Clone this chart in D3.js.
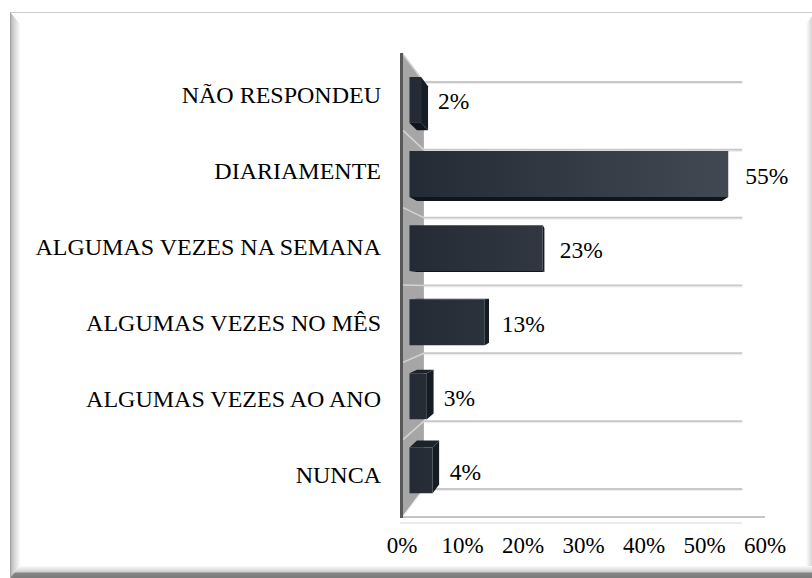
<!DOCTYPE html>
<html>
<head>
<meta charset="utf-8">
<script src="https://cdn.jsdelivr.net/npm/d3@7"></script>
<style>
  html, body { margin: 0; padding: 0; background: #ffffff; }
  svg { display: block; }
  text { font-family: "Liberation Serif", "Times New Roman", serif; fill: #000; }
</style>
</head>
<body>
<svg id="chart" width="812" height="578"></svg>
<script>
// ---- data ----
const categories = ["NÃO RESPONDEU", "DIARIAMENTE", "ALGUMAS VEZES NA SEMANA", "ALGUMAS VEZES NO MÊS", "ALGUMAS VEZES AO ANO", "NUNCA"];
const values = [0.02, 0.55, 0.23, 0.13, 0.03, 0.04];
const valueLabels = ["2%", "55%", "23%", "13%", "3%", "4%"];
const tickValues = [0, 0.1, 0.2, 0.3, 0.4, 0.5, 0.6];
const tickLabels = ["0%", "10%", "20%", "30%", "40%", "50%", "60%"];

// ---- layout ----
const W = 812, H = 578;
const FONT = "Liberation Serif, Times New Roman, serif";
const svg = d3.select("#chart");
const defs = svg.append("defs");

// perspective: front plane scales, vanishing point, depth factors
const x = d3.scaleLinear().domain([0, 0.6]).range([402, 765]);
const y = d3.scaleBand().domain(categories).range([53, 517]).paddingInner(0).paddingOuter(0);
const V = { x: 580, y: 289 };
const sBack = 0.877, sBarFront = 0.958, sBarBack = 0.916, sLabel = 0.982;
const px = (xf, s) => V.x + s * (xf - V.x);
const py = (yf, s) => V.y + s * (yf - V.y);
const barFrac = 0.62;

// ---- frame (beveled border) ----
const gL = defs.append("linearGradient").attr("id", "gLeft").attr("x1", 0).attr("x2", 1).attr("y1", 0).attr("y2", 0);
gL.append("stop").attr("offset", "0%").attr("stop-color", "#9a9a9a");
gL.append("stop").attr("offset", "20%").attr("stop-color", "#c4c4c4");
gL.append("stop").attr("offset", "100%").attr("stop-color", "#fbfbfb");
const gB = defs.append("linearGradient").attr("id", "gBottom").attr("x1", 0).attr("x2", 0).attr("y1", 0).attr("y2", 1);
gB.append("stop").attr("offset", "0%").attr("stop-color", "#fafafa");
gB.append("stop").attr("offset", "45%").attr("stop-color", "#d4d4d4");
gB.append("stop").attr("offset", "62%").attr("stop-color", "#858585");
gB.append("stop").attr("offset", "100%").attr("stop-color", "#7b7b7b");
const gR = defs.append("linearGradient").attr("id", "gRight").attr("x1", 0).attr("x2", 1).attr("y1", 0).attr("y2", 0);
gR.append("stop").attr("offset", "0%").attr("stop-color", "#ffffff");
gR.append("stop").attr("offset", "100%").attr("stop-color", "#d6d6d6");

svg.append("line").attr("x1", 10).attr("x2", W).attr("y1", 12.5).attr("y2", 12.5)
  .attr("stroke", "#cdcdcd").attr("stroke-width", 1.2);
svg.append("polygon").attr("points", "10,12 20,24 20,566 10,578").attr("fill", "url(#gLeft)");
svg.append("polygon").attr("points", `806,24 812,16 812,578 806,566`).attr("fill", "url(#gRight)");
svg.append("polygon").attr("points", `10,578 20,566 ${W},566 ${W},578`).attr("fill", "url(#gBottom)");

// ---- walls ----
const yTopF = y.range()[0], yBotF = y.range()[1];
const x0F = x(0), xEndF = x(0.6);
// side wall
svg.append("polygon")
  .attr("points", [[x0F, yTopF], [px(x0F, sBack), py(yTopF, sBack)], [px(x0F, sBack), py(yBotF, sBack)], [x0F, yBotF]].map(p => p.join(",")).join(" "))
  .attr("fill", "#a6a6a6");
svg.append("line")
  .attr("x1", x0F).attr("y1", yTopF).attr("x2", px(x0F, sBack)).attr("y2", py(yTopF, sBack))
  .attr("stroke", "#cfcfcf").attr("stroke-width", 1.5);

// gridlines at band boundaries (back wall + side wall)
const bounds = categories.map(c => y(c)).concat([yBotF]);
bounds.forEach((b, i) => {
  const yb = py(b, sBack);
  if (i > 0) {
    svg.append("line")
      .attr("x1", x0F + 1).attr("y1", b).attr("x2", px(x0F, sBack)).attr("y2", yb)
      .attr("stroke", i === bounds.length - 1 ? "#f2f2f2" : "#d4d4d4").attr("stroke-width", 1.5);
  }
  svg.append("line")
    .attr("x1", px(x0F, sBack)).attr("x2", px(xEndF, sBack)).attr("y1", yb).attr("y2", yb)
    .attr("stroke", "#c8c8c8").attr("stroke-width", 2);
  svg.append("line")
    .attr("x1", px(x0F, sBack)).attr("x2", px(xEndF, sBack)).attr("y1", yb + 1.5).attr("y2", yb + 1.5)
    .attr("stroke", "#ececec").attr("stroke-width", 1);
});
// floor front edge and base line
svg.append("line").attr("x1", x0F).attr("x2", xEndF).attr("y1", yBotF).attr("y2", yBotF)
  .attr("stroke", "#c6c6c6").attr("stroke-width", 2);
svg.append("line").attr("x1", x0F - 2).attr("x2", px(xEndF, sBack)).attr("y1", yBotF + 6).attr("y2", yBotF + 6)
  .attr("stroke", "#d8d8d8").attr("stroke-width", 1);
// dark left axis edge
svg.append("line").attr("x1", x0F - 0.5).attr("x2", x0F - 0.5).attr("y1", yTopF).attr("y2", yBotF + 1)
  .attr("stroke", "#585858").attr("stroke-width", 3);

// ---- bars ----
const gF = defs.append("linearGradient").attr("id", "gFront").attr("gradientUnits", "userSpaceOnUse")
  .attr("x1", 410).attr("x2", 730).attr("y1", 0).attr("y2", 0);
gF.append("stop").attr("offset", "0%").attr("stop-color", "#242b34");
gF.append("stop").attr("offset", "100%").attr("stop-color", "#434952");

const pts = arr => arr.map(p => p[0].toFixed(2) + "," + p[1].toFixed(2)).join(" ");
const barG = svg.append("g");
categories.forEach((c, i) => {
  const v = values[i];
  const bh = y.bandwidth() * barFrac;
  const yc = y(c) + y.bandwidth() / 2;
  const yt = yc - bh / 2, yb = yc + bh / 2;
  const xa = x(0), xb = x(v);
  const F = (xx, yy) => [px(xx, sBarFront), py(yy, sBarFront)];
  const B = (xx, yy) => [px(xx, sBarBack), py(yy, sBarBack)];
  const g = barG.append("g");
  if (xb < V.x) {
    g.append("polygon").attr("points", pts([F(xb, yt), B(xb, yt), B(xb, yb), F(xb, yb)])).attr("fill", "#161c23");
  }
  if (yb < V.y) {
    g.append("polygon").attr("points", pts([F(xa, yb), F(xb, yb), B(xb, yb), B(xa, yb)])).attr("fill", "#10151b");
  }
  if (yt > V.y) {
    g.append("polygon").attr("points", pts([F(xa, yt), F(xb, yt), B(xb, yt), B(xa, yt)])).attr("fill", "#1d232b");
  }
  g.append("polygon").attr("points", pts([F(xa, yt), F(xb, yt), F(xb, yb), F(xa, yb)])).attr("fill", "url(#gFront)");

  const fr = F(xb, yc);
  svg.append("text")
    .attr("x", fr[0] + 17).attr("y", fr[1] + 9.5)
    .attr("font-family", FONT)
    .attr("font-size", 23.5)
    .text(valueLabels[i]);

  svg.append("text")
    .attr("x", 381).attr("y", py(yc, sLabel) + 8)
    .attr("text-anchor", "end")
    .attr("font-family", FONT)
    .attr("font-size", 24)
    .text(c);
});

// ---- value axis tick labels ----
tickValues.forEach((t, i) => {
  svg.append("text")
    .attr("x", x(t)).attr("y", 553)
    .attr("text-anchor", "middle")
    .attr("font-family", FONT)
    .attr("font-size", 23)
    .text(tickLabels[i]);
});
</script>
</body>
</html>
